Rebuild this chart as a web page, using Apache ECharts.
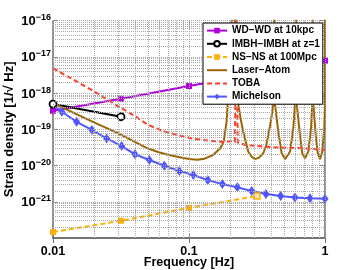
<!DOCTYPE html>
<html><head><meta charset="utf-8">
<script src="https://cdn.jsdelivr.net/npm/echarts@6/dist/echarts.min.js"></script>
<style>html,body{margin:0;padding:0;background:#fff}#c{width:360px;height:270px}#err{position:absolute;left:0;top:150px;font:9px monospace;color:red;width:360px;word-wrap:break-word}</style>
</head><body><div id="c"></div><div id="err"></div>
<script>
window.onerror = function (m, s, l, c, e) { document.getElementById('err').textContent += m + ' ' + l + ':' + c + ' '; };
// ---- tick labels ----
const xTicks = [0.01, 0.1, 1];
const yTicks = [1e-22, 1e-21, 1e-20, 1e-19, 1e-18, 1e-17, 1e-16];

// ---- series names ----
const names = ['WD\u2212WD at 10kpc', 'IMBH\u2212IMBH at z=1', 'NS\u2212NS at 100Mpc', 'Laser\u2212Atom', 'TOBA', 'Michelson'];

// ---- WD-WD at 10kpc ----
const wdFreq = [0.01, 0.0316, 0.1, 0.316, 1];
const wdVal  = [3.27e-19, 7.0e-19, 1.57e-18, 3.5e-18, 7.9e-18];

// ---- IMBH-IMBH at z=1 ----
const imbhFreq = [0.01, 0.0316];
const imbhVal  = [5.0e-19, 2.23e-19];

// ---- NS-NS at 100Mpc ----
const nsFreq = [0.01, 0.0316, 0.1, 0.316];
const nsVal  = [1.46e-22, 2.99e-22, 6.8e-22, 1.44e-21];

// ---- Laser-Atom ----
const laserFreq = [0.01, 0.015, 0.02, 0.03, 0.04, 0.05, 0.06, 0.07, 0.08, 0.1, 0.115, 0.13, 0.15, 0.17, 0.18, 0.189, 0.193,
  0.212,
  0.2305, 0.2392, 0.2507, 0.2729, 0.288, 0.3056, 0.327, 0.3518, 0.3684, 0.3829, 0.401, 0.4169,
  0.423,
  0.4289, 0.4535, 0.4803, 0.508, 0.5528, 0.5845, 0.6017,
  0.61,
  0.6193, 0.6548, 0.6808, 0.7125, 0.7535, 0.7889, 0.8066,
  0.813,
  0.8204, 0.8545, 0.8838, 0.919, 0.9552, 0.9883, 1.0,
  1.0];
const laserVal = [5.3e-19, 2.6e-19, 1.55e-19, 7.9e-20, 4.5e-20, 2.95e-20, 2.34e-20, 2.0e-20, 1.78e-20, 1.51e-20, 1.45e-20, 1.55e-20, 1.95e-20, 3.0e-20, 4.7e-20, 1.6e-19, 5.8e-19,
  1e-15,
  5e-19, 2.04e-19, 8.5e-20, 2.4e-20, 1.78e-20, 1.51e-20, 1.66e-20, 2.19e-20, 3.47e-20, 6.9e-20, 1.8e-19, 5e-19,
  1e-15,
  5e-19, 8.5e-20, 2.19e-20, 1.51e-20, 2.4e-20, 1.07e-19, 5e-19,
  1e-15,
  5e-19, 6.9e-20, 2.19e-20, 1.58e-20, 2.4e-20, 1.07e-19, 5e-19,
  1e-15,
  5e-19, 6.9e-20, 2.19e-20, 1.51e-20, 2.4e-20, 1.07e-19, 5e-19,
  1e-15];

// ---- TOBA ----
const tobaFreq = [0.01, 0.02, 0.03, 0.04, 0.05, 0.065, 0.085, 0.11, 0.15, 0.18, 0.205, 0.218, 0.223, 0.228, 0.24, 0.26, 0.36, 0.5, 0.7, 1.0];
const tobaVal  = [4.9e-18, 1.12e-18, 4.4e-19, 2.34e-19, 1.32e-19, 8.9e-20, 6.8e-20, 5.4e-20, 4.8e-20, 4.5e-20, 4.7e-20, 4.5e-20, 1e-15, 4.3e-20, 4.1e-20, 3.7e-20, 3.3e-20, 3.1e-20, 3.0e-20, 2.75e-20];

// ---- Michelson ----
const micFreq = [0.01, 0.0116, 0.0149, 0.0193, 0.0248, 0.032, 0.0401, 0.0511, 0.0658, 0.0849, 0.1076, 0.1374, 0.1758, 0.2265, 0.289, 0.368, 0.472, 0.601, 0.776, 1.0];
const micVal  = [4.84e-19, 3.06e-19, 1.62e-19, 9.6e-20, 5.6e-20, 3.46e-20, 2.04e-20, 1.42e-20, 9.9e-21, 7.05e-21, 5.47e-21, 3.97e-21, 3.08e-21, 2.5e-21, 1.98e-21, 1.63e-21, 1.44e-21, 1.31e-21, 1.26e-21, 1.22e-21];

const FONT = '"Liberation Sans", Arial, Helvetica, sans-serif';
function pts(f, v) { return f.map((x, i) => [x, v[i]]); }

// grid line positions (major + minor, log decades)
const gridX = [];
[0.01, 0.1].forEach(d => { for (let k = 2; k <= 10; k++) gridX.push(+(d * k).toPrecision(3)); });
const gridY = [];
for (let e = -22; e < -16; e++) for (let k = 2; k <= 10; k++) gridY.push(+(k * Math.pow(10, e)).toPrecision(3));

const gridColor = '#a8a8a8';
const axisLineStyle = { color: '#6e6e6e', width: 1.5 };
const tickStyle = { color: '#6e6e6e', width: 1 };

try {
const chart = echarts.init(document.getElementById('c'), null, { renderer: 'canvas' });
const micData = pts(micFreq, micVal).map((p, i) => i === 0 ? { value: p, symbol: 'none' } : p);
const gridLines = gridX.map(v => [{ coord: [v, 1e-22] }, { coord: [v, 1e-16] }])
  .concat(gridY.map(v => [{ coord: [0.01, v] }, { coord: [1, v] }]));

chart.setOption({
  animation: false,
  grid: { left: 53, right: 35, top: 20.7, bottom: 32, outerBoundsMode: 'none' },
  legend: {
    z: 100, zlevel: 0,
    data: [
      { name: names[0] }, { name: names[1] }, { name: names[2] },
      { name: names[3], itemStyle: { opacity: 0 } },
      { name: names[4], itemStyle: { opacity: 0 } },
      { name: names[5] }
    ],
    orient: 'vertical',
    left: 203, top: 23,
    backgroundColor: '#fff',
    borderColor: '#000', borderWidth: 1, borderRadius: 0,
    padding: [1, 3, 1, 3],
    itemWidth: 20, itemHeight: 7, itemGap: 0,
    textStyle: { fontFamily: FONT, fontSize: 10, fontWeight: 'bold', color: '#000', lineHeight: 13.2 }
  },
  xAxis: [{
    type: 'log', logBase: 10, min: 0.01, max: 1,
    name: 'Frequency [Hz]', nameLocation: 'middle', nameGap: 18, nameMoveOverlap: false,
    nameTextStyle: { fontFamily: FONT, fontSize: 12.5, fontWeight: 'bold', color: '#000' },
    axisLine: { show: true, lineStyle: axisLineStyle },
    axisTick: { show: true, inside: true, length: 5, lineStyle: tickStyle },
    axisLabel: { fontFamily: FONT, fontSize: 12.5, fontWeight: 'bold', color: '#000', margin: 7,
      formatter: v => String(v) },
    splitLine: { show: false }
  }, {
    type: 'log', logBase: 10, min: 0.01, max: 1, position: 'top',
    axisLine: { show: true, lineStyle: axisLineStyle },
    axisTick: { show: true, inside: true, length: 5, lineStyle: tickStyle },
    axisLabel: { show: false }, splitLine: { show: false }
  }],
  yAxis: [{
    type: 'log', logBase: 10, min: 1e-22, max: 1e-16,
    name: 'Strain density [1/\u221A Hz]', nameLocation: 'middle', nameGap: 37, nameMoveOverlap: false,
    nameTextStyle: { fontFamily: FONT, fontSize: 13, fontWeight: 'bold', color: '#000' },
    axisLine: { show: true, lineStyle: axisLineStyle },
    axisTick: { show: true, inside: true, length: 5, lineStyle: tickStyle },
    axisLabel: {
      margin: 2, color: '#000',
      formatter: v => {
        const e = Math.round(Math.log10(v));
        return '{b|10}{s|' + (e < 0 ? '\u2212' : '') + Math.abs(e) + '}';
      },
      rich: {
        b: { fontFamily: FONT, fontSize: 13, fontWeight: 'bold', color: '#000', lineHeight: 15, verticalAlign: 'bottom', padding: [5, 0, 0, 0] },
        s: { fontFamily: FONT, fontSize: 9, fontWeight: 'bold', color: '#000', lineHeight: 9, verticalAlign: 'top' }
      }
    },
    splitLine: { show: false }
  }, {
    type: 'log', logBase: 10, min: 1e-22, max: 1e-16, position: 'right',
    axisLine: { show: true, lineStyle: axisLineStyle },
    axisTick: { show: true, inside: true, length: 5, lineStyle: tickStyle },
    axisLabel: { show: false }, splitLine: { show: false }
  }],
  series: [
    {
      name: '_grid', type: 'line', data: [], silent: true, z: 1,
      markLine: {
        silent: true, symbol: ['none', 'none'], label: { show: false }, animation: false,
        lineStyle: { color: gridColor, width: 1, type: 'dotted' },
        data: gridLines
      }
    },
    {
      name: names[0], type: 'line', data: pts(wdFreq, wdVal), z: 2,
      color: '#b000dd', lineStyle: { width: 2 }, symbol: 'rect', symbolSize: 6,
      itemStyle: { color: '#b000dd' }
    },
    {
      name: names[1], type: 'line', data: pts(imbhFreq, imbhVal), z: 2,
      color: '#000', lineStyle: { width: 2, color: '#000' }, symbol: 'circle', symbolSize: 7,
      itemStyle: { color: '#fff', borderColor: '#000', borderWidth: 1.8 }
    },
    {
      name: names[2], type: 'line', z: 2, data: pts(nsFreq, nsVal).map((p, i) => i === 3 ? { value: p, itemStyle: { color: '#ffe9b0', borderColor: '#ffb000', borderWidth: 1.5 } } : p),
      color: '#ffb000', lineStyle: { width: 2, type: [5, 3] }, symbol: 'rect', symbolSize: 6,
      itemStyle: { color: '#ffb000' }
    },
    {
      name: names[3], type: 'line', data: pts(laserFreq, laserVal), z: 2,
      color: '#9c6400', lineStyle: { width: 2 }, symbol: 'none', showSymbol: false
    },
    {
      name: names[4], type: 'line', data: pts(tobaFreq, tobaVal), z: 2,
      color: '#ff3b2a', lineStyle: { width: 2, type: [5, 3] }, symbol: 'none', showSymbol: false
    },
    {
      name: names[5], type: 'line', data: micData, z: 2,
      color: '#4f55ff', lineStyle: { width: 2 }, symbol: 'diamond', symbolSize: [7, 10],
      itemStyle: { color: '#4f55ff' }
    }
  ]
});
} catch (e) { document.getElementById('err').textContent += 'ERR ' + e.message + ' ' + (e.stack || '').slice(0, 300); }
</script>
</body></html>
